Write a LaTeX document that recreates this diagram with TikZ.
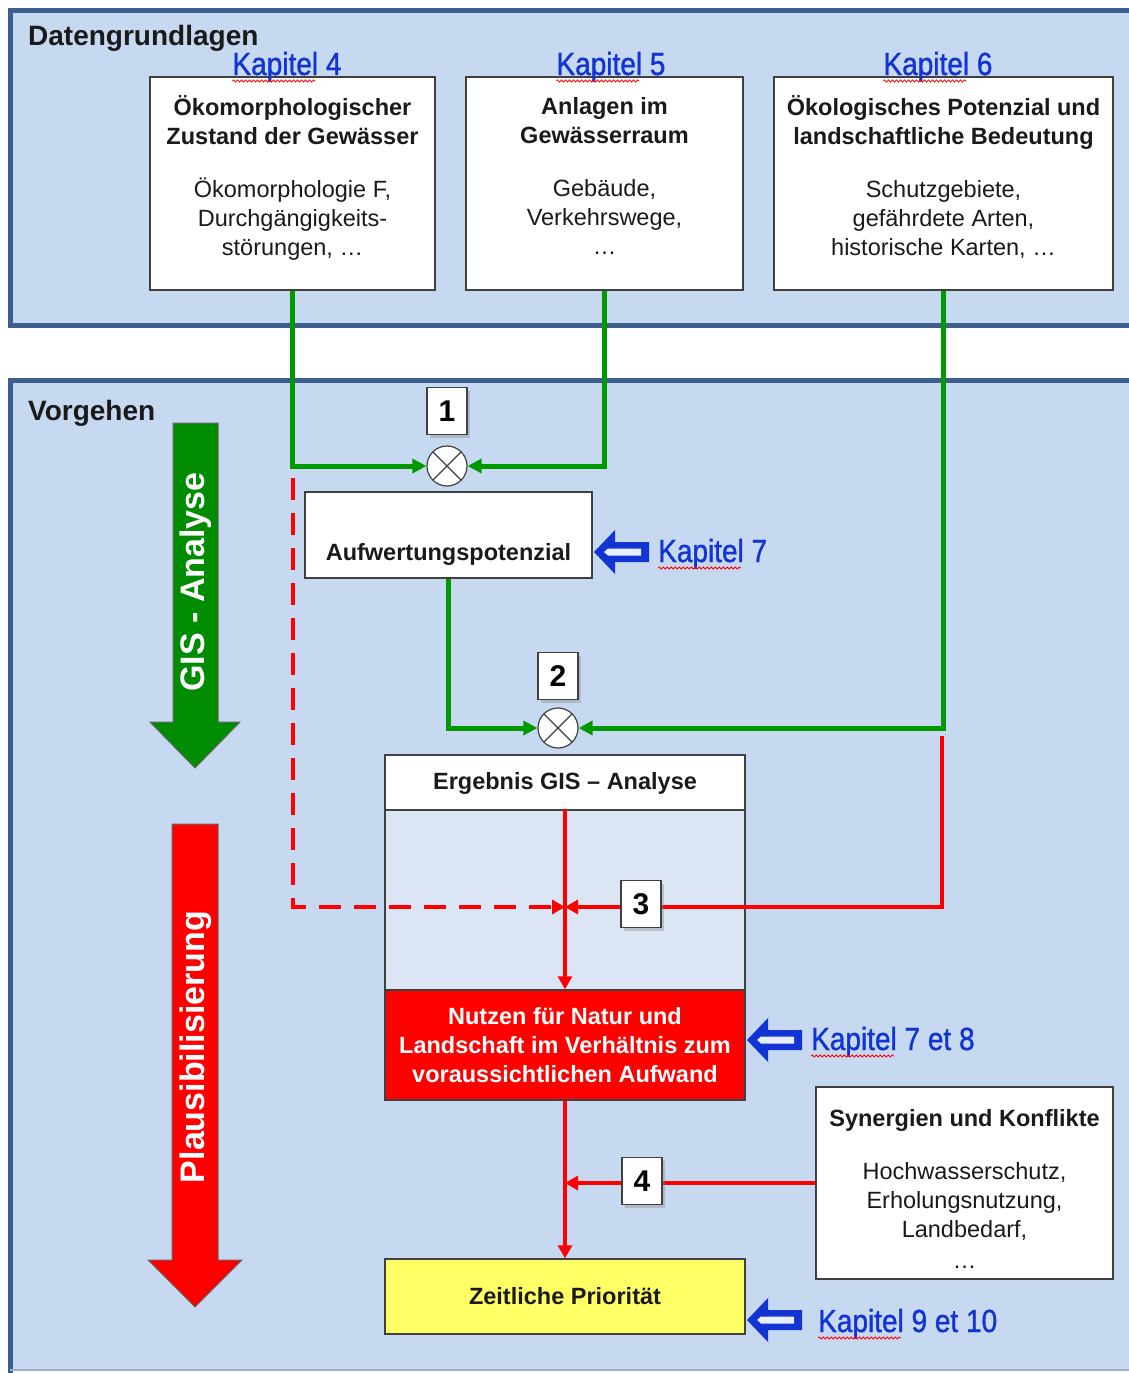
\documentclass[tikz,border=0pt]{standalone}
\usepackage{fontspec}
\setmainfont{Liberation Sans}
\newfontfamily\kapfont{Liberation Sans}[BoldFont={Liberation Sans}, BoldFeatures={FakeBold=1.2}]
\usepackage{graphicx}
\usetikzlibrary{positioning,arrows.meta,shadows,decorations.pathmorphing}

\definecolor{panelfill}{HTML}{C6D9F1}
\definecolor{panelline}{HTML}{3B5E8C}
\definecolor{boxline}{HTML}{404040}
\definecolor{textblack}{HTML}{1A1A1A}
\definecolor{flowgreen}{HTML}{009A00}
\definecolor{arrowgreen}{HTML}{008C00}
\definecolor{flowred}{HTML}{FF0000}
\definecolor{kapblue}{HTML}{1234D2}
\definecolor{bodyfill}{HTML}{DBE5F3}
\definecolor{prioyellow}{HTML}{FFFF66}

\newcommand{\boxfont}{\fontsize{23.5}{29}\selectfont}
\newcommand{\kap}[1]{\scalebox{0.875}[1]{#1}}

\tikzset{
  databox/.style={draw=boxline, line width=1.5pt, fill=white, align=center,
    inner xsep=2pt, font=\boxfont, text=textblack},
  numbox/.style={draw=boxline, line width=1.2pt, fill=white, minimum width=40pt,
    minimum height=47pt, inner sep=0pt, font=\fontsize{30}{30}\selectfont\bfseries,
    drop shadow={shadow xshift=3pt, shadow yshift=-3pt, opacity=0.35}},
  sumnode/.style={circle, draw=boxline, line width=1.2pt, fill=white, minimum size=40pt,
    inner sep=0pt, path picture={
      \draw[boxline, line width=1.2pt]
        (path picture bounding box.north west) -- (path picture bounding box.south east)
        (path picture bounding box.north east) -- (path picture bounding box.south west);}},
  kaplabel/.style={text=kapblue, font=\fontsize{32}{32}\kapfont\bfseries, inner sep=0pt},
  spellwave/.style={draw=red, line width=0.8pt, decorate,
    decoration={snake, segment length=4pt, amplitude=1.1pt}},
  paneltitle/.style={font=\fontsize{28}{28}\selectfont\bfseries, text=textblack, inner sep=0pt},
  bigtext/.style={font=\fontsize{34}{34}\selectfont\bfseries, text=white, rotate=90, inner sep=0pt},
  greenflow/.style={draw=flowgreen, line width=5pt, -{Triangle[length=14pt,width=14pt]}},
  redflow/.style={draw=flowred, line width=4.5pt, -{Triangle[length=13pt,width=14pt]}},
  kaparrow/.pic={
    \fill[kapblue] (0,0) -- (21,-22) -- (21,-10) -- (55,-10) -- (55,10) -- (21,10) -- (21,22) -- cycle;
    \fill[white!55!panelfill] (10,0) -- (14,-3.5) -- (47,-3.5) -- (47,3.5) -- (14,3.5) -- cycle;
  }
}

\begin{document}
\begin{tikzpicture}[x=1pt,y=-1pt]
\clip (0,0) rectangle (1129,1373);

% Datengrundlagen
\fill[panelfill] (10,10) rectangle (1140,325);
\draw[panelline, line width=5pt] (10,10) rectangle (1140,325);
% Vorgehen
\fill[panelfill] (10,380) rectangle (1140,1370);
\draw[panelline, line width=5pt] (10,1375) -- (10,380) -- (1140,380);
\draw[panelline!50, line width=1.5pt] (10,1370) -- (1140,1370);

\node[paneltitle, anchor=base west] at (28,45) (datentitle) {Datengrundlagen};
\node[paneltitle, anchor=base west] at (28,420) (vorgehentitle) {Vorgehen};

% data boxes
\node[databox, minimum width=285pt, minimum height=213pt] at (292.5,183.5) (oekomorph)
  {\textbf{Ökomorphologischer}\\\textbf{Zustand der Gewässer}\\[24pt]
   Ökomorphologie F,\\Durchgängigkeits-\\störungen, …\\[-13pt]\mbox{}};
\node[databox, minimum width=277pt, minimum height=213pt] at (604.5,183.5) (anlagen)
  {\textbf{Anlagen im}\\\textbf{Gewässerraum}\\[24pt]
   Gebäude,\\Verkehrswege,\\…\\[-13pt]\mbox{}};
\node[databox, minimum width=339pt, minimum height=213pt] at (943.5,183.5) (potenzial)
  {\textbf{Ökologisches Potenzial und}\\\textbf{landschaftliche Bedeutung}\\[24pt]
   Schutzgebiete,\\gefährdete Arten,\\historische Karten, …\\[-13pt]\mbox{}};

\node[kaplabel, anchor=base] at (287,75) (kap4) {\kap{Kapitel 4}};
\node[kaplabel, anchor=base] at (611,75) (kap5) {\kap{Kapitel 5}};
\node[kaplabel, anchor=base] at (938,75) (kap6) {\kap{Kapitel 6}};

% GIS - Analyse / Plausibilisierung
\filldraw[fill=arrowgreen, draw=black!60, line width=1pt]
  (173,423) -- (218,423) -- (218,722) -- (240,722) -- (195,768) -- (150,722) -- (173,722) -- cycle;
\node[bigtext] at (196,582) (gistext) {GIS - Analyse};
\filldraw[fill=flowred, draw=black!60, line width=1pt]
  (172,824) -- (218,824) -- (218,1260) -- (242,1260) -- (195,1307) -- (148,1260) -- (172,1260) -- cycle;
\node[bigtext] at (196,1047) (plaustext) {Plausibilisierung};

% flow
\node[sumnode] at (447,466) (sum1) {};
\node[databox, font=\boxfont\bfseries, minimum width=287pt, minimum height=86pt,
  text height=56pt, text depth=6pt, inner ysep=12pt] at (448.5,535) (aufwertung) {Aufwertungspotenzial};
\node[sumnode] at (558,728) (sum2) {};

\node[databox, font=\boxfont\bfseries, minimum width=360pt, minimum height=56pt] at (565,783) (ergebnis)
  {Ergebnis GIS – Analyse};
\node[draw=boxline, line width=1.5pt, fill=bodyfill, minimum width=360pt, minimum height=180pt]
  at (565,900) (ergbody) {};
\node[databox, fill=flowred, text=white, font=\boxfont\bfseries, minimum width=360pt, minimum height=110pt]
  at (565,1045) (nutzen) {Nutzen für Natur und\\Landschaft im Verhältnis zum\\voraussichtlichen Aufwand};
\node[databox, fill=prioyellow, font=\boxfont\bfseries, minimum width=360pt, minimum height=75pt]
  at (565,1296.5) (prioritaet) {Zeitliche Priorität};
\node[databox, minimum width=297pt, minimum height=192pt] at (964.5,1183) (synergien)
  {\mbox{}\\\textbf{Synergien und Konflikte}\\[24pt]Hochwasserschutz,\\Erholungsnutzung,\\Landbedarf,\\[2pt]…};

\coordinate (dashstart) at (293,478);
\coordinate (redstart) at (942,736);
\coordinate (join3) at (565,907);
\coordinate (join4) at (565,1183);

\draw[greenflow] (oekomorph.south) |- (sum1.west);
\draw[greenflow] (anlagen.south) |- (sum1.east);
\draw[greenflow] (aufwertung.south) |- (sum2.west);
\draw[greenflow] (potenzial.south) |- (sum2.east);

\draw[redflow] (ergbody.north) -- (nutzen.north);
\draw[redflow] (redstart) |- (join3);
\draw[redflow, dash pattern=on 22pt off 13pt] (dashstart) |- (join3);
\draw[redflow] (nutzen.south) -- (prioritaet.north);
\draw[redflow] (synergien.west) -- (join4);

\node[numbox] at (447,411) (num1) {1};
\node[numbox] at (558,676) (num2) {2};
\node[numbox] at (641,904) (num3) {3};
\node[numbox] at (642,1181) (num4) {4};

% Kapitel hints
\pic at (594,552) {kaparrow};
\node[kaplabel, anchor=base west] at (658,562) (kap7) {\kap{Kapitel 7}};
\pic at (747,1040) {kaparrow};
\node[kaplabel, anchor=base west] at (811,1050) (kap78) {\kap{Kapitel 7 et 8}};
\pic at (747,1320) {kaparrow};
\node[kaplabel, anchor=base west] at (818,1332) (kap910) {\kap{Kapitel 9 et 10}};

\foreach \k in {kap4,kap5,kap6,kap7,kap78,kap910}
  \draw[spellwave] ([yshift=-6pt]\k.base west) -- ++(83,0);
\end{tikzpicture}
\end{document}
